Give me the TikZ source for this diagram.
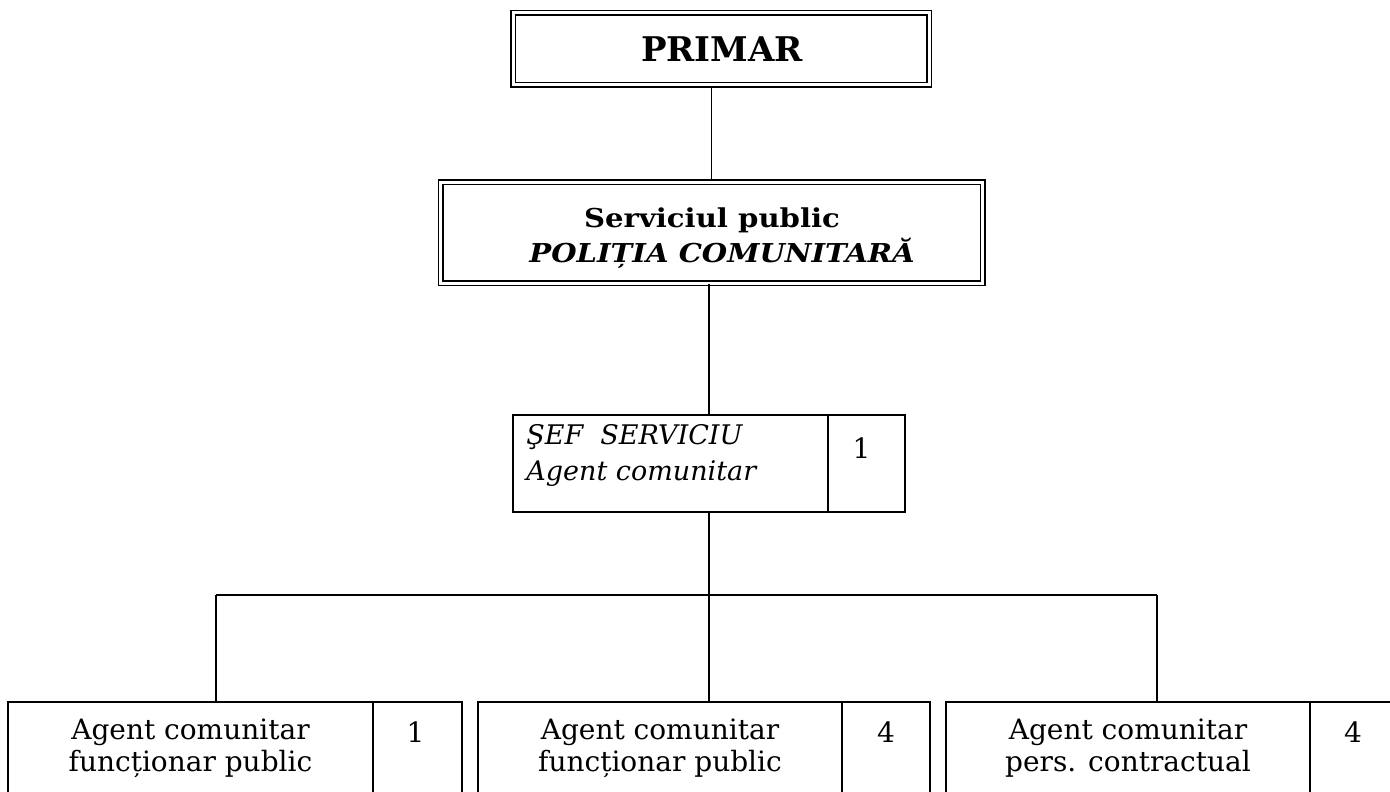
\documentclass[tikz,border=0pt]{standalone}
\usepackage{fontspec}
\setmainfont{DejaVu Serif}
\newfontfamily\widefont{DejaVu Serif}[FakeStretch=1.12]
\usetikzlibrary{calc}
\tikzset{
  cell/.style={draw, line width=1.6pt, inner sep=0pt},
  dbox/.style={draw, double, double distance=3pt, line width=1.5pt, inner sep=0pt},
  conn/.style={line width=1.3pt},
  reg/.style={font=\fontsize{28}{30}\selectfont, inner sep=0pt},
  itl/.style={font=\fontsize{27}{30}\selectfont\itshape, inner sep=0pt},
  bigb/.style={font=\fontsize{34}{38}\selectfont\bfseries, inner sep=0pt},
  midb/.style={font=\widefont\fontsize{26}{28}\selectfont\bfseries, inner sep=0pt},
}
\begin{document}
\begin{tikzpicture}[x=1pt,y=-1pt]
\useasboundingbox (0,0) rectangle (1390,792);
\clip (0,0) rectangle (1390,792);
\fill[white] (0,0) rectangle (1390,792);

% top boxes
\node[dbox, minimum width=416pt, minimum height=72pt] (primar) at (721,49) {};
\node[bigb, anchor=base] (primart) at (722,62) {PRIMAR};

\node[dbox, minimum width=542pt, minimum height=101pt] (serv) at (711.5,232.5) {};
\node[midb, anchor=base] (serv1) at (712,227) {Serviciul public};
\node[midb, anchor=base] (serv2) at (722,262) {\itshape POLIȚIA COMUNITARĂ};

% chief box
\node[cell, minimum width=315pt, minimum height=97pt] (sef) at (670.5,463.5) {};
\node[cell, minimum width=77pt, minimum height=97pt] (sefn) at (866.5,463.5) {};
\node[itl, anchor=base west] (sef1) at ($(sef.north west)+(14,30)$) {ŞEF\ \ SERVICIU};
\node[itl, anchor=base west] (sef2) at ($(sef.north west)+(14,66)$) {Agent comunitar};
\node[reg, anchor=base] (sefnt) at ($(sefn.north)+(-5,44)$) {1};

% bottom boxes
\node[cell, minimum width=365pt, minimum height=106pt] (a1) at (190.5,755) {};
\node[cell, minimum width=89pt, minimum height=106pt] (n1) at (417.5,755) {};
\node[cell, minimum width=364pt, minimum height=106pt] (a2) at (660,755) {};
\node[cell, minimum width=88pt, minimum height=106pt] (n2) at (886,755) {};
\node[cell, minimum width=364pt, minimum height=106pt] (a3) at (1128,755) {};
\node[cell, minimum width=90pt, minimum height=106pt] (n3) at (1355,755) {};

\node[reg, anchor=base] (a1l1) at ($(a1.north)+(0,38)$) {Agent comunitar};
\node[reg, anchor=base] (a1l2) at ($(a1.north)+(0,70)$) {funcționar public};
\node[reg, anchor=base] (n1t) at ($(n1.north)+(-2,41)$) {1};
\node[reg, anchor=base] (a2l1) at ($(a2.north)+(0,38)$) {Agent comunitar};
\node[reg, anchor=base] (a2l2) at ($(a2.north)+(0,70)$) {funcționar public};
\node[reg, anchor=base] (n2t) at ($(n2.north)+(0,41)$) {4};
\node[reg, anchor=base] (a3l1) at ($(a3.north)+(0,38)$) {Agent comunitar};
\node[reg, anchor=base] (a3l2) at ($(a3.north)+(0,70)$) {pers. contractual};
\node[reg, anchor=base] (n3t) at ($(n3.north)+(-2,41)$) {4};

% connectors
\coordinate (hub) at (709,595);
\coordinate (b1) at (216,595);
\coordinate (b3) at (1157,595);
\draw[conn] (serv.north |- primar.south) -- (serv.north);
\draw[conn] (hub |- serv.south) -- (hub |- sef.north);
\draw[conn] (hub |- sef.south) -- (hub);
\draw[conn] (b1) -- (b3);
\draw[conn] (b1) -- (b1 |- a1.north);
\draw[conn] (hub) -- (hub |- a2.north);
\draw[conn] (b3) -- (b3 |- a3.north);
\end{tikzpicture}
\end{document}
